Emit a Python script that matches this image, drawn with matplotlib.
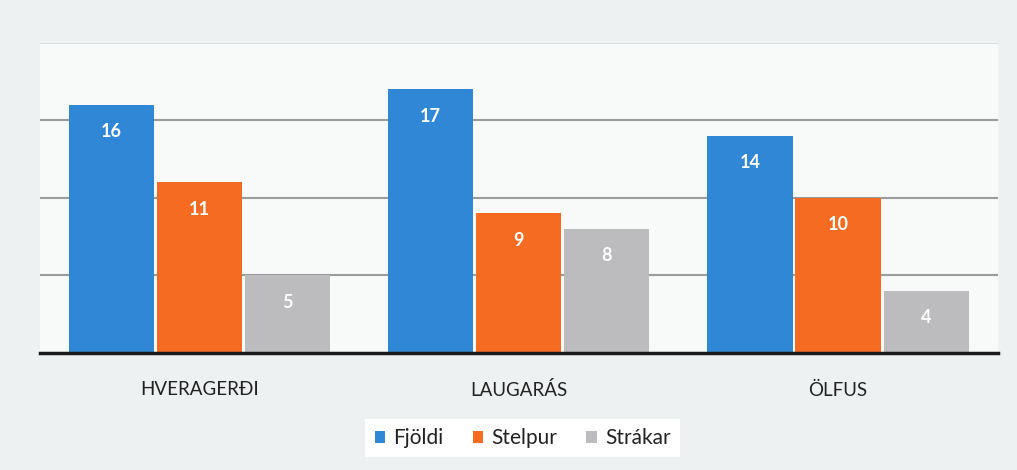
import matplotlib
matplotlib.use("Agg")
import matplotlib.pyplot as plt
import numpy as np

plt.rcParams['font.family'] = ['Lato', 'DejaVu Sans']

categories = ["HVERAGERÐI", "LAUGARÁS", "ÖLFUS"]
series_names = ["Fjöldi", "Stelpur", "Strákar"]
fjoldi = [16, 17, 14]
stelpur = [11, 9, 10]
strakar = [5, 8, 4]
colors = ["#2f87d6", "#f56b22", "#bcbcbe"]

fig = plt.figure(figsize=(10.17, 4.70), dpi=100, facecolor="#eef1f1")
ax = fig.add_axes([0.039, 0.249, 0.942, 0.6595])
ax.set_facecolor("#f8f9f9")

x = np.arange(len(categories))
w = 0.267
gap = 0.009
offsets = [-(w + gap), 0, (w + gap)]
for vals, off, col, name in zip([fjoldi, stelpur, strakar], offsets, colors, series_names):
    bars = ax.bar(x + off, vals, width=w, color=col, label=name, zorder=3)
    for b, v in zip(bars, vals):
        ax.annotate(str(v), (b.get_x() + b.get_width() / 2, v), xytext=(0, -27),
                    textcoords="offset pixels",
                    ha="center", va="center", color="white", fontsize=13,
                    fontweight="bold", zorder=4)

ax.set_xlim(-0.5, 2.5)
ax.set_ylim(0, 20)
ax.set_yticks([5, 10, 15])
ax.yaxis.grid(True, color="#9a9c9c", linewidth=1.5, zorder=1)
ax.axhline(20, color="#d8dcdc", linewidth=1.2, zorder=1)
ax.tick_params(axis="y", left=False, labelleft=False)
ax.tick_params(axis="x", bottom=False, labelsize=13.5, pad=17, colors="#222222")
ax.set_xticks(x)
ax.set_xticklabels(categories)
for s in ["top", "right", "left"]:
    ax.spines[s].set_visible(False)
ax.spines["bottom"].set_color("#1a1a1a")
ax.spines["bottom"].set_linewidth(2.5)
ax.spines["bottom"].set_zorder(5)

leg = fig.legend(loc="center", bbox_to_anchor=(0.514, 0.068), ncol=3, frameon=True,
                 fontsize=15, handlelength=0.5, handleheight=0.5, handletextpad=0.4,
                 columnspacing=1.4, fancybox=False, edgecolor="none", facecolor="white",
                 framealpha=1.0, borderpad=0.45)
for t in leg.get_texts():
    t.set_color("#222222")

fig.savefig("out.png", dpi=100, facecolor=fig.get_facecolor())
